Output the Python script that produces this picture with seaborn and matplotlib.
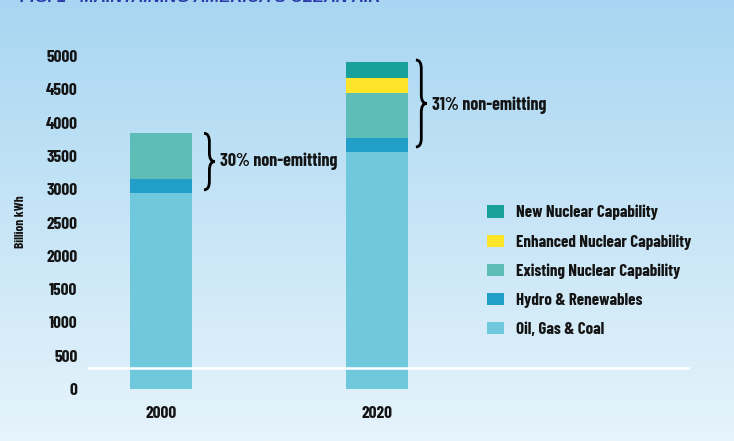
import numpy as np
import pandas as pd
import matplotlib
matplotlib.use("Agg")
import matplotlib.pyplot as plt
from matplotlib import font_manager
from matplotlib.path import Path
from matplotlib.patches import PathPatch, Patch
from matplotlib.colors import LinearSegmentedColormap
import seaborn as sns

years = ["2000", "2020"]
oil_gas_coal = [2940, 3560]
hydro_renew = [210, 210]
existing_nuc = [690, 675]
enhanced_nuc = [0, 225]
new_nuc = [0, 240]
labels = ["New Nuclear Capability", "Enhanced Nuclear Capability",
          "Existing Nuclear Capability", "Hydro & Renewables", "Oil, Gas & Coal"]
colors = ["#18a19a", "#ffe52a", "#5fbdb8", "#229fc8", "#6fc8dc"]
annot = ["30% non-emitting", "31% non-emitting"]
yticks = [0, 500, 1000, 1500, 2000, 2500, 3000, 3500, 4000, 4500, 5000]
title = "FIG. 1   MAINTAINING AMERICA\u2019S CLEAN AIR"

sns.set_theme(style="white")
names = {f.name for f in font_manager.fontManager.ttflist}
fam = "Liberation Sans"
for cand in ["Barlow Condensed", "Barlow Semi Condensed", "Asap Condensed",
             "Archivo Narrow", "Liberation Sans Narrow"]:
    if cand in names:
        fam = cand
        break
plt.rcParams["font.family"] = [fam, "DejaVu Sans"]
WT = 700
TC = "#141414"
FS = 12.5

fig = plt.figure(figsize=(7.34, 4.41), dpi=100)

# gradient background
bg = fig.add_axes([0, 0, 1, 1], zorder=-10)
cmap = LinearSegmentedColormap.from_list("bg", ["#a8d6f2", "#e6f4fb"])
bg.imshow(np.linspace(0, 1, 256).reshape(-1, 1), aspect="auto", cmap=cmap,
          extent=[0, 1, 0, 1])
bg.set_axis_off()

W, H = 734, 441
ax = fig.add_axes([88 / W, 1 - 389 / H, (690 - 88) / W, (389 - 56) / H])
ax.set_facecolor("none")

layers = [oil_gas_coal, hydro_renew, existing_nuc, enhanced_nuc, new_nuc]
cum = np.cumsum(np.array(layers), axis=0)
for i, col in zip(range(4, -1, -1), colors):
    df = pd.DataFrame({"year": years, "val": cum[i]})
    sns.barplot(data=df, x="year", y="val", color=col, saturation=1,
                width=0.29, ax=ax, zorder=2, linewidth=0, edgecolor="none")

ax.set_xlim(-0.338, 2.449)
ax.set_ylim(0, 5000)
ax.set_yticks(yticks)
ax.set_yticklabels([str(t) for t in yticks], fontweight=WT, fontsize=FS,
                   color=TC)
for lab in ax.get_xticklabels():
    lab.set_fontweight(WT)
    lab.set_fontsize(FS)
    lab.set_color(TC)
ax.tick_params(axis="y", length=0, pad=7.5)
ax.tick_params(axis="x", length=0, pad=12)
ax.set_xlabel("")
ax.set_ylabel("")
for s in ax.spines.values():
    s.set_visible(False)

ax.axhline(315, color="white", lw=1.8, zorder=3)

fig.text(20 / W, 1 - 222 / H, "Billion kWh", rotation=90, ha="center",
         va="center", fontsize=9.5, fontweight=WT, color=TC)


def brace(x, y0, y1, w, r):
    ym = (y0 + y1) / 2
    xm = x + w * 0.5
    verts = [(x, y1), (xm, y1), (xm, y1 - r), (xm, ym + r), (xm, ym),
             (x + w, ym), (xm, ym), (xm, ym - r), (xm, y0 + r), (xm, y0),
             (x, y0)]
    codes = [Path.MOVETO, Path.CURVE3, Path.CURVE3, Path.LINETO, Path.CURVE3,
             Path.CURVE3, Path.CURVE3, Path.CURVE3, Path.LINETO, Path.CURVE3,
             Path.CURVE3]
    ax.add_patch(PathPatch(Path(verts, codes), fill=False, lw=2.0,
                           color="black", clip_on=False, zorder=5))


brace(0.199, 2990, 3840, 0.05, 130)
brace(1.18, 3634, 4940, 0.05, 130)
ax.text(0.273, 3423, annot[0], fontsize=13, fontweight=WT, va="center",
        color=TC)
ax.text(1.255, 4264, annot[1], fontsize=13, fontweight=WT, va="center",
        color=TC)

handles = [Patch(facecolor=c, edgecolor="none") for c in colors]
leg = fig.legend(handles, labels, loc="upper left",
                 bbox_to_anchor=(480 / W, 1 - 198 / H), frameon=False,
                 prop={"weight": WT, "size": 12.2}, handlelength=1.0,
                 handleheight=0.74, handletextpad=0.7, labelspacing=0.82,
                 borderaxespad=0, borderpad=0.4, labelcolor=TC)

fig.text(20 / W, 1 - 2 / H, title, color="#2b3aa8", fontsize=12,
         fontweight="bold", fontstyle="italic", va="baseline", ha="left",
         family=["Liberation Sans", "DejaVu Sans"])

fig.savefig("out.png", dpi=100)
